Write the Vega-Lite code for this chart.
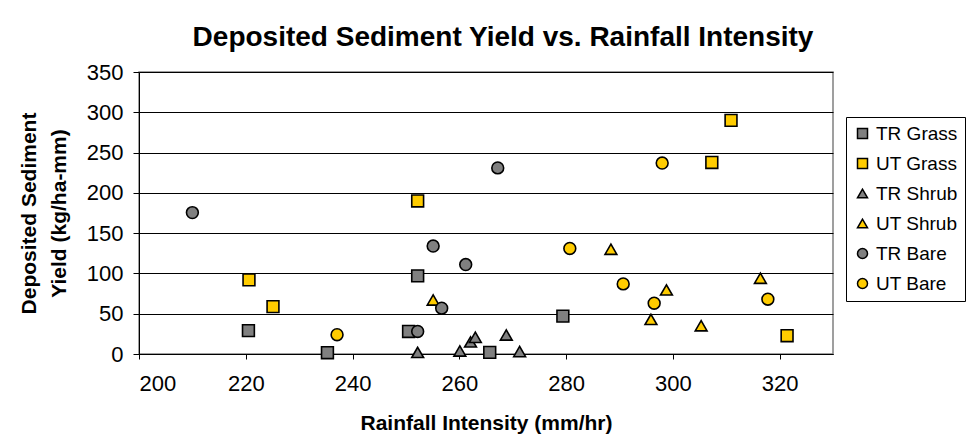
{
  "$schema": "https://vega.github.io/schema/vega-lite/v6.json",
  "width": 694,
  "height": 282,
  "autosize": {"type": "none"},
  "padding": {"left": 139, "top": 72, "right": 139, "bottom": 91},
  "background": "white",
  "title": {
    "text": "Deposited Sediment Yield vs. Rainfall Intensity",
    "font": "Liberation Sans",
    "fontSize": 28,
    "fontWeight": "bold",
    "color": "black",
    "anchor": "middle",
    "offset": 9,
    "dx": 17
  },
  "data": {
    "values": [
      {"s": "TR Grass", "x": 220.5, "y": 29},
      {"s": "TR Grass", "x": 235.3, "y": 1.6},
      {"s": "TR Grass", "x": 252.2, "y": 97},
      {"s": "TR Grass", "x": 250.5, "y": 28},
      {"s": "TR Grass", "x": 265.7, "y": 2},
      {"s": "TR Grass", "x": 279.4, "y": 47},
      {"s": "UT Grass", "x": 220.6, "y": 92},
      {"s": "UT Grass", "x": 225.1, "y": 58.8},
      {"s": "UT Grass", "x": 252.2, "y": 190},
      {"s": "UT Grass", "x": 307.3, "y": 237.7},
      {"s": "UT Grass", "x": 310.9, "y": 290},
      {"s": "UT Grass", "x": 321.4, "y": 22.7},
      {"s": "TR Shrub", "x": 252.2, "y": 2},
      {"s": "TR Shrub", "x": 260.1, "y": 3.7},
      {"s": "TR Shrub", "x": 262.1, "y": 15},
      {"s": "TR Shrub", "x": 263.0, "y": 20.7},
      {"s": "TR Shrub", "x": 268.8, "y": 23.6},
      {"s": "TR Shrub", "x": 271.3, "y": 3},
      {"s": "UT Shrub", "x": 255.1, "y": 67},
      {"s": "UT Shrub", "x": 288.4, "y": 130},
      {"s": "UT Shrub", "x": 295.9, "y": 43},
      {"s": "UT Shrub", "x": 298.8, "y": 79.5},
      {"s": "UT Shrub", "x": 305.3, "y": 35},
      {"s": "UT Shrub", "x": 316.4, "y": 94},
      {"s": "TR Bare", "x": 210.0, "y": 175.5},
      {"s": "TR Bare", "x": 252.2, "y": 28},
      {"s": "TR Bare", "x": 255.1, "y": 134},
      {"s": "TR Bare", "x": 256.7, "y": 56.8},
      {"s": "TR Bare", "x": 261.2, "y": 111},
      {"s": "TR Bare", "x": 267.2, "y": 231},
      {"s": "UT Bare", "x": 237.1, "y": 24},
      {"s": "UT Bare", "x": 280.7, "y": 131},
      {"s": "UT Bare", "x": 290.7, "y": 87},
      {"s": "UT Bare", "x": 296.5, "y": 63},
      {"s": "UT Bare", "x": 298.0, "y": 237},
      {"s": "UT Bare", "x": 317.8, "y": 68}
    ]
  },
  "mark": {"type": "point", "filled": true, "stroke": "black", "strokeWidth": 1.6, "size": 140, "opacity": 1},
  "encoding": {
    "x": {
      "field": "x", "type": "quantitative",
      "scale": {"domain": [200, 330], "nice": false, "zero": false},
      "axis": {
        "title": "Rainfall Intensity (mm/hr)",
        "values": [200, 220, 240, 260, 280, 300, 320],
        "grid": false,
        "domainColor": "black", "tickColor": "black", "tickSize": 5,
        "labelFont": "Liberation Sans", "labelFontSize": 22, "labelColor": "black", "labelPadding": 14,
        "titleFont": "Liberation Sans", "titleFontSize": 21, "titleFontWeight": "bold", "titleColor": "black", "titlePadding": 18
      }
    },
    "y": {
      "field": "y", "type": "quantitative",
      "scale": {"domain": [0, 350], "nice": false},
      "axis": {
        "title": ["Deposited Sediment", "Yield (kg/ha-mm)"],
        "values": [0, 50, 100, 150, 200, 250, 300, 350],
        "grid": true, "gridColor": "#000000", "gridWidth": 1,
        "domainColor": "black", "tickColor": "black", "tickSize": 6,
        "labelFont": "Liberation Sans", "labelFontSize": 22, "labelColor": "black", "labelPadding": 10,
        "titleFont": "Liberation Sans", "titleFontSize": 21, "titleFontWeight": "bold", "titleColor": "black", "titlePadding": 17, "titleLineHeight": 30
      }
    },
    "fill": {
      "field": "s", "type": "nominal",
      "scale": {
        "domain": ["TR Grass", "UT Grass", "TR Shrub", "UT Shrub", "TR Bare", "UT Bare"],
        "range": ["#808080", "#FFCC00", "#808080", "#FFCC00", "#808080", "#FFCC00"]
      },
      "legend": {
        "title": null,
        "orient": "none",
        "legendX": 707,
        "legendY": 45,
        "fillColor": "white",
        "strokeColor": "black",
        "padding": 7,
        "rowPadding": 10,
        "labelOffset": 4,
        "symbolSize": 100,
        "labelFont": "Liberation Sans",
        "labelFontSize": 19,
        "labelColor": "black",
        "labelLimit": 200,
        "encode": {"symbols": {"update": {"stroke": {"value": "black"}, "strokeWidth": {"value": 1.6}}}}
      }
    },
    "shape": {
      "field": "s", "type": "nominal",
      "scale": {
        "domain": ["TR Grass", "UT Grass", "TR Shrub", "UT Shrub", "TR Bare", "UT Bare"],
        "range": ["square", "square", "triangle-up", "triangle-up", "circle", "circle"]
      },
      "legend": {
        "title": null,
        "orient": "none",
        "legendX": 707,
        "legendY": 45,
        "fillColor": "white",
        "strokeColor": "black",
        "padding": 7,
        "rowPadding": 10,
        "labelOffset": 4,
        "symbolSize": 100,
        "labelFont": "Liberation Sans",
        "labelFontSize": 19,
        "labelColor": "black",
        "labelLimit": 200,
        "encode": {"symbols": {"update": {"stroke": {"value": "black"}, "strokeWidth": {"value": 1.6}}}}
      }
    }
  },
  "config": {
    "view": {"stroke": "#808080", "strokeWidth": 1.5}
  }
}
